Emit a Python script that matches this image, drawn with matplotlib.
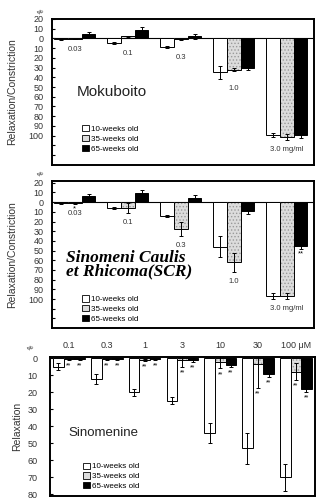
import numpy as np
import matplotlib
matplotlib.use('Agg')
import matplotlib.pyplot as plt
from matplotlib.patches import Patch

plt.rcParams['font.family'] = ['Liberation Sans', 'DejaVu Sans']
plt.rcParams['hatch.linewidth'] = 0.6

# DATOS (relajacion positiva hacia abajo, constriccion negativa)
grupos = ['10-weeks old', '35-weeks old', '65-weeks old']
colores = ['white', '#dcdcdc', 'black']

moku_dosis = ['0.03', '0.1', '0.3', '1.0', '3.0 mg/ml']
moku_10 = [1, 5, 9, 35, 99]
moku_10_err = [0.5, 1, 1, 7, 2]
moku_35 = [0.5, -2, 1, 32, 101]
moku_35_err = [0.3, 0.5, 0.5, 2, 3]
moku_65 = [-5, -9, -2, 30, 99]
moku_65_err = [1.5, 3, 3, 3, 3]

scr_dosis = ['0.03', '0.1', '0.3', '1.0', '3.0 mg/ml']
scr_10 = [1, 6, 14, 46, 97]
scr_10_err = [0.5, 1, 1, 11, 3]
scr_35 = [1, 6, 28, 62, 97]
scr_35_err = [0.5, 5, 7, 10, 3]
scr_65 = [-6, -9, -4, 9, 45]
scr_65_err = [2, 3, 3, 3, 3]
scr_sig = ['', '', '', '', '', '*', '', '', '', '', '', '', '', '', '**']

sino_dosis = ['0.1', '0.3', '1', '3', '10', '30', '100 μM']
sino_10 = [5, 12, 20, 25, 44, 53, 70]
sino_10_err = [2, 3, 2, 2, 6, 9, 8]
sino_35 = [0.5, 0.5, 1, 1, 2, 3.5, 8]
sino_35_err = [0.3, 0.3, 0.5, 4, 4, 14, 5]
sino_65 = [0.5, 0.5, 0.5, 1, 4, 9, 18]
sino_65_err = [0.3, 0.3, 0.3, 1, 1, 2, 2]

fig = plt.figure(figsize=(3.17, 4.98), dpi=100)
ax1 = fig.add_axes([0.164, 0.669, 0.826, 0.293])
ax2 = fig.add_axes([0.164, 0.341, 0.826, 0.296])
ax3 = fig.add_axes([0.158, 0.004, 0.836, 0.279])


def barras(ax, series, errs, ancho):
    n = len(series[0])
    x = np.arange(n)
    for i, (s, e) in enumerate(zip(series, errs)):
        xi = x + (i - 1) * ancho
        if i == 1:
            # punteado gris como en el escaneo
            ax.bar(xi, s, ancho, color=colores[i], edgecolor='#9a9a9a', linewidth=0,
                   hatch='.....', zorder=2)
            ax.bar(xi, s, ancho, color='none', edgecolor='black', linewidth=0.7, zorder=2)
        else:
            ax.bar(xi, s, ancho, color=colores[i], edgecolor='black', linewidth=0.7, zorder=2)
        ax.errorbar(xi, s, yerr=e, fmt='none', ecolor='black', elinewidth=0.7,
                    capsize=1.5, capthick=0.7, zorder=3)
    return x


def marco(ax):
    for sp in ax.spines.values():
        sp.set_linewidth(1.4)
    ax.tick_params(axis='y', direction='in', length=2.5, width=0.8, labelsize=6.5,
                   pad=6, colors='black', labelcolor='#333333')


def leyenda(ax, x0, y0):
    h = [Patch(facecolor=c, edgecolor='black', linewidth=0.6) for c in colores]
    ax.legend(h, grupos, loc='upper left', bbox_to_anchor=(x0, y0), frameon=False,
              fontsize=5.8, handlelength=0.8, handleheight=0.8, handletextpad=0.3,
              labelspacing=0.25, borderpad=0)


def panel_mg(ax, dosis, s10, e10, s35, e35, s65, e65, ylim_top, sig=None):
    x = barras(ax, [s10, s35, s65], [e10, e35, e65], 0.26)
    ax.axhline(0, color='black', lw=0.8, zorder=1)
    ax.set_xlim(-0.43, 4.51)
    ax.set_ylim(130, ylim_top)
    yt = np.arange(-20, 130, 10)
    ax.set_yticks(yt)
    ax.set_yticklabels([str(abs(v)) if v <= 100 else '' for v in yt])
    ax.set_xticks([])
    marco(ax)
    ax.text(-0.03, 1.02, '%', transform=ax.transAxes, fontsize=4.5, ha='right',
            va='bottom', rotation=30)
    ax.set_ylabel('Relaxation/Constriction', fontsize=7.5, color='#333333', labelpad=8)
    # etiquetas de dosis debajo de cada grupo
    todos = np.array([np.array(s10) + e10, np.array(s35) + e35, np.array(s65) + e65])
    fondo = np.maximum(todos.max(axis=0), 0)
    for xi, d, f in zip(x, dosis, fondo):
        ax.text(xi, f + 10, d, ha='center', va='center', fontsize=5.5, color='#333333')
    if sig is not None:
        vals = [s10, s35, s65]
        errs = [e10, e35, e65]
        for k, m in enumerate(sig):
            if not m:
                continue
            g, i = divmod(k, 5)
            v = vals[g][i]
            e = errs[g][i]
            xi = i + (g - 1) * 0.26
            yy = v + e + 5 if v > 0 else v - e - 3
            ax.text(xi, yy, m, ha='center', va='center', fontsize=5.5)


panel_mg(ax1, moku_dosis, moku_10, moku_10_err, moku_35, moku_35_err,
         moku_65, moku_65_err, -19.5)
ax1.text(0.23, 0.5, 'Mokuboito', transform=ax1.transAxes, fontsize=11,
         ha='center', va='center', color='#222222')
leyenda(ax1, 0.1, 0.3)

panel_mg(ax2, scr_dosis, scr_10, scr_10_err, scr_35, scr_35_err,
         scr_65, scr_65_err, -22, sig=scr_sig)
ax2.text(0.055, 0.43, 'Sinomeni Caulis\net Rhicoma(SCR)', transform=ax2.transAxes,
         fontsize=12.5, ha='left', va='center', family=['Liberation Serif'],
         fontweight='bold', style='italic', linespacing=0.72)
leyenda(ax2, 0.1, 0.25)

# panel 3: sinomenina
x3 = barras(ax3, [sino_10, sino_35, sino_65], [sino_10_err, sino_35_err, sino_65_err], 0.28)
ax3.set_xlim(-0.5, 6.51)
ax3.set_ylim(81, -0.7)
ax3.set_yticks(np.arange(0, 90, 10))
ax3.set_xticks(x3)
ax3.set_xticklabels(sino_dosis)
ax3.tick_params(axis='x', top=True, labeltop=True, bottom=False, labelbottom=False,
                length=0, pad=5, labelsize=6.5, labelcolor='#333333')
marco(ax3)
ax3.tick_params(axis='y', pad=9)
ax3.text(-0.06, 1.04, '%', transform=ax3.transAxes, fontsize=4.5, ha='right',
         va='bottom', rotation=30)
ax3.set_ylabel('Relaxation', fontsize=7.5, color='#333333', labelpad=4)
for g, (s, e) in enumerate([(sino_35, sino_35_err), (sino_65, sino_65_err)]):
    for i in range(len(s)):
        ax3.text(x3[i] + g * 0.28, s[i] + e[i] + 3.5, '**', ha='center', va='center',
                 fontsize=5)
ax3.text(0.2, 0.45, 'Sinomenine', transform=ax3.transAxes, fontsize=9.5,
         ha='center', va='center', color='#222222')
leyenda(ax3, 0.11, 0.27)

fig.savefig('out.png', dpi=100)
